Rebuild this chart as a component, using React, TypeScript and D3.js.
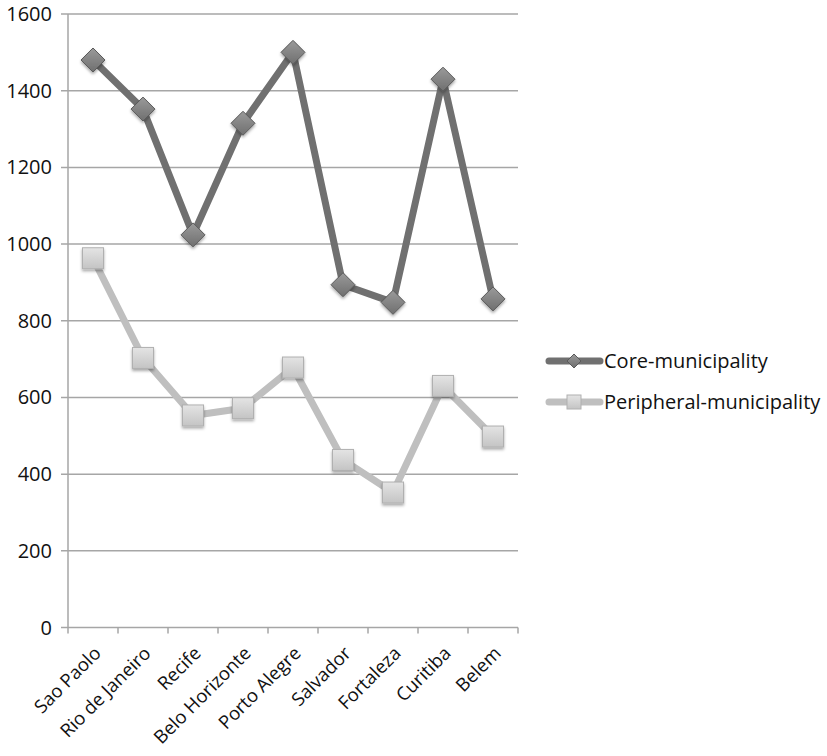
import React from "react";
import * as d3 from "d3";

const cities = [
  "Sao Paolo",
  "Rio de Janeiro",
  "Recife",
  "Belo Horizonte",
  "Porto Alegre",
  "Salvador",
  "Fortaleza",
  "Curitiba",
  "Belem",
];
const coreValues = [1480, 1352, 1024, 1315, 1500, 894, 848, 1430, 857];
const peripheralValues = [963, 703, 553, 572, 678, 437, 352, 630, 498];
const yTicks = [0, 200, 400, 600, 800, 1000, 1200, 1400, 1600];
const seriesNames = ["Core-municipality", "Peripheral-municipality"];

const W = 827;
const H = 756;
const left = 68;
const right = 518;
const top = 14;
const bottom = 627.5;
const FONT = "'Open Sans', 'DejaVu Sans', sans-serif";

export default function App() {
  const x = d3.scaleBand<string>().domain(cities).range([left, right]);
  const y = d3.scaleLinear().domain([0, 1600]).range([bottom, top]);
  const cx = (c: string) => (x(c) as number) + x.bandwidth() / 2;

  const line = d3
    .line<number>()
    .x((_, i) => cx(cities[i]))
    .y((d) => y(d));

  const tickXs = cities.map((c) => x(c) as number).concat([right]);

  const diamond = (px: number, py: number, r: number) =>
    `M${px},${py - r}L${px + r},${py}L${px},${py + r}L${px - r},${py}Z`;

  const legendY = [361, 402];

  return (
    <svg
      width={W}
      height={H}
      style={{ position: "absolute", left: 0, top: 0, background: "#fff" }}
      fontFamily={FONT}
    >
      <defs>
        <linearGradient id="dia" x1="0" y1="0" x2="0" y2="1">
          <stop offset="0" stopColor="#9a9a9a" />
          <stop offset="1" stopColor="#6f6f6f" />
        </linearGradient>
        <linearGradient id="sq" x1="0" y1="0" x2="0" y2="1">
          <stop offset="0" stopColor="#e4e4e4" />
          <stop offset="1" stopColor="#c4c4c4" />
        </linearGradient>
        <filter id="shadow" x="-50%" y="-50%" width="200%" height="200%">
          <feDropShadow dx="0" dy="2" stdDeviation="1.6" floodColor="#000" floodOpacity="0.35" />
        </filter>
      </defs>

      {/* horizontal gridlines */}
      {yTicks.map((t) => (
        <line
          key={t}
          x1={left - 7}
          x2={right}
          y1={y(t)}
          y2={y(t)}
          stroke="#a6a6a6"
          strokeWidth={1.5}
        />
      ))}
      {/* y axis */}
      <line x1={left} x2={left} y1={top} y2={bottom} stroke="#a6a6a6" strokeWidth={1.5} />
      {/* x ticks */}
      {tickXs.map((tx, i) => (
        <line key={i} x1={tx} x2={tx} y1={bottom} y2={bottom + 6} stroke="#a6a6a6" strokeWidth={1.5} />
      ))}

      {/* y labels */}
      {yTicks.map((t) => (
        <text
          key={t}
          x={52}
          y={y(t)}
          dy="0.35em"
          textAnchor="end"
          fontSize={20}
          fill="#111"
        >
          {t}
        </text>
      ))}

      {/* x labels */}
      {cities.map((c) => (
        <text
          key={c}
          transform={`translate(${cx(c) + 9},${bottom + 27}) rotate(-45)`}
          textAnchor="end"
          fontSize={18.5}
          fill="#111"
        >
          {c}
        </text>
      ))}

      {/* peripheral series */}
      <path
        d={line(peripheralValues) as string}
        fill="none"
        stroke="#bfbfbf"
        strokeWidth={7}
        strokeLinejoin="round"
      />
      {peripheralValues.map((v, i) => (
        <rect
          key={i}
          x={cx(cities[i]) - 10.5}
          y={y(v) - 10.5}
          width={21}
          height={21}
          fill="url(#sq)"
          stroke="#b0b0b0"
          strokeWidth={1}
          filter="url(#shadow)"
        />
      ))}

      {/* core series */}
      <path
        d={line(coreValues) as string}
        fill="none"
        stroke="#707070"
        strokeWidth={7}
        strokeLinejoin="round"
      />
      {coreValues.map((v, i) => (
        <path
          key={i}
          d={diamond(cx(cities[i]), y(v), 12)}
          fill="url(#dia)"
          stroke="#5a5a5a"
          strokeWidth={1}
          filter="url(#shadow)"
        />
      ))}

      {/* legend */}
      <g>
        <line x1={549} x2={600} y1={legendY[0]} y2={legendY[0]} stroke="#707070" strokeWidth={7} strokeLinecap="round" />
        <path d={diamond(574, legendY[0], 7)} fill="url(#dia)" stroke="#5a5a5a" strokeWidth={1} />
        <text x={604} y={legendY[0]} dy="0.35em" fontSize={20} fill="#111">
          {seriesNames[0]}
        </text>
        <line x1={549} x2={600} y1={legendY[1]} y2={legendY[1]} stroke="#bfbfbf" strokeWidth={7} strokeLinecap="round" />
        <rect x={567} y={legendY[1] - 7} width={14} height={14} fill="url(#sq)" stroke="#b0b0b0" strokeWidth={1} />
        <text x={604} y={legendY[1]} dy="0.35em" fontSize={20} fill="#111">
          {seriesNames[1]}
        </text>
      </g>
    </svg>
  );
}
